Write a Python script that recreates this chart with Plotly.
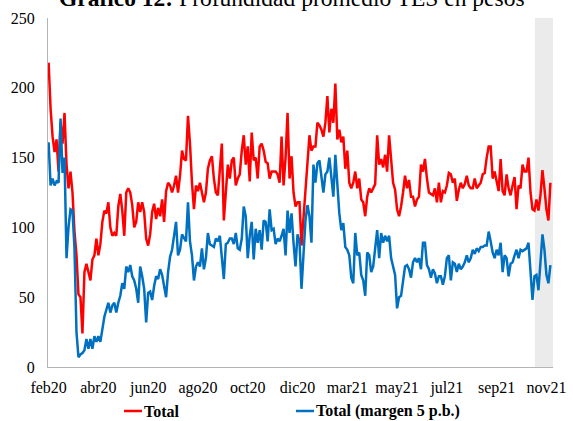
import plotly.graph_objects as go

# Profundidad promedio TES en pesos (daily observations, feb20 - nov21)
total = [
    218, 185, 165, 154, 163, 140, 175, 160, 182, 145, 128, 140, 125, 97, 80,
    52, 50, 24, 68, 74, 68, 62, 77, 80, 92, 80, 88, 104, 112, 110,
    118, 100, 94, 96, 94, 115, 124, 112, 94, 125, 128,
    125, 116, 100, 104, 118, 111, 118, 111, 92, 87, 95, 111, 117, 106, 114,
    108, 120, 104, 126, 132, 130, 125, 130, 137, 125, 137, 155, 149, 148, 180,
    160, 132, 113, 130, 126, 132, 126, 118, 125, 142, 148, 151,
    135, 125, 123, 145, 160, 105, 128, 145, 135, 148, 150, 130, 135, 138, 155,
    166, 145, 158, 133, 168, 148, 150, 135, 158, 160, 155, 147, 146, 135, 140,
    140, 140, 138, 132, 165, 130, 150, 182, 135, 151, 125, 115,
    118, 118, 87, 106, 125, 148, 166, 155, 158, 158, 175, 173, 170, 165, 175,
    194, 168, 185, 175, 203, 163, 170, 161, 165, 142, 155, 132, 128, 132, 140,
    128, 135, 120, 118, 108, 122, 128, 125, 128, 131, 166, 145,
    149, 143, 152, 140, 166, 150, 132, 127, 113, 108, 115, 125, 137, 128, 134,
    122, 122, 115, 120, 122, 145, 140, 149, 135, 125, 124, 123, 128, 118, 132,
    118, 126, 125, 130, 139, 138, 132, 135, 119, 127, 132, 128,
    131, 137, 130, 128, 128, 135, 128, 130, 132, 138, 139, 150, 158, 158, 135,
    140, 132, 126, 149, 126, 123, 138, 128, 123, 130, 136, 113, 130, 128, 145,
    140, 140, 150, 125, 113, 112, 120, 112, 123, 141, 128, 113, 105, 132,
]

margen_5pb = [
    161, 130, 135, 130, 133, 132, 178, 139, 150, 78, 100, 113, 112, 85, 25,
    7, 9, 10, 12, 20, 13, 20, 13, 22, 18, 22, 18, 29, 36, 41,
    46, 39, 44, 46, 39, 46, 51, 60, 56, 72, 68,
    73, 65, 62, 56, 46, 72, 65, 56, 32, 53, 54, 48, 58, 65, 63,
    70, 66, 58, 50, 68, 79, 84, 96, 104, 80, 84, 95, 92, 90, 118,
    90, 80, 62, 72, 75, 72, 85, 70, 78, 96, 88, 87,
    86, 92, 90, 94, 80, 63, 88, 89, 92, 92, 88, 96, 85, 84, 92,
    115, 108, 78, 94, 104, 77, 99, 89, 98, 84, 105, 104, 90, 113, 98,
    99, 88, 92, 90, 94, 99, 80, 112, 96, 110, 89, 72,
    95, 90, 56, 84, 105, 116, 108, 89, 145, 132, 146, 148, 135, 125, 138,
    140, 150, 138, 122, 152, 130, 110, 98, 103, 86, 84, 80, 64, 60, 96,
    80, 82, 66, 62, 51, 82, 80, 68, 72, 86, 98, 78,
    96, 89, 94, 90, 94, 78, 72, 66, 42, 50, 51, 62, 72, 73, 70,
    64, 75, 78, 75, 78, 70, 89, 89, 73, 70, 64, 70, 67, 60, 65,
    65, 59, 65, 78, 80, 62, 75, 74, 68, 74, 70, 72,
    75, 80, 75, 78, 84, 81, 85, 83, 86, 86, 87, 87, 97, 90, 82,
    78, 84, 80, 89, 68, 80, 78, 65, 74, 75, 80, 84, 78, 84, 83,
    84, 85, 89, 71, 48, 65, 66, 55, 72, 95, 84, 66, 60, 73,
]

tick_labels = ["feb20", "abr20", "jun20", "ago20", "oct20", "dic20",
               "mar21", "may21", "jul21", "sep21", "nov21"]
tick_step = 25      # one label every 25 observations
shade_start = 244   # last observations shaded grey

x = list(range(len(total)))
font_family = "Liberation Serif, Times New Roman, serif"
red, blue = "#FF0000", "#0070C0"

# plot area in pixels (used to place title / legend outside the axes)
W, H = 573, 421
ML, MR, MT, MB = 48, 20, 18, 54
pw, ph = W - ML - MR, H - MT - MB


def px_x(px):
    return (px - ML) / pw


def px_y(py):
    return (H - MB - py) / ph


fig = go.Figure()
fig.add_trace(go.Scatter(x=x, y=total, mode="lines", name="Total",
                         line=dict(color=red, width=2.5)))
fig.add_trace(go.Scatter(x=x, y=margen_5pb, mode="lines", name="Total (margen 5 p.b.)",
                         line=dict(color=blue, width=2.5)))

fig.add_vrect(x0=shade_start + 0.2, x1=len(total) + 0.3, fillcolor="#EBEBEB",
              line_width=0, layer="below")

# title (partly cut by the top edge, as in the source)
fig.add_annotation(text="<b>Gráfico 12:</b> Profundidad promedio TES en pesos",
                   xref="paper", yref="paper", x=px_x(292), y=px_y(-2),
                   xanchor="center", yanchor="middle", showarrow=False,
                   font=dict(family=font_family, size=23.5, color="black"))

# legend drawn below the axis: short coloured key + bold name
legend_items = [("Total", red, 124), ("Total (margen 5 p.b.)", blue, 296)]
for name, color, left in legend_items:
    fig.add_shape(type="line", xref="paper", yref="paper",
                  x0=px_x(left), x1=px_x(left + 18), y0=px_y(411), y1=px_y(411),
                  line=dict(color=color, width=2.5))
    fig.add_annotation(text="<b>%s</b>" % name, xref="paper", yref="paper",
                       x=px_x(left + 18), y=px_y(411), xanchor="left", yanchor="middle",
                       showarrow=False,
                       font=dict(family=font_family, size=16, color="black"))

fig.update_layout(
    width=W, height=H,
    margin=dict(l=ML, r=MR, t=MT, b=MB),
    paper_bgcolor="white", plot_bgcolor="white",
    font=dict(family=font_family, size=16, color="black"),
    showlegend=False,
)

fig.update_xaxes(range=[-0.3, len(total) + 0.3],
                 tickvals=[i * tick_step for i in range(len(tick_labels))],
                 ticktext=tick_labels, ticks="", showgrid=False, zeroline=False,
                 showline=True, linecolor="#B4B4B4", linewidth=1,
                 tickfont=dict(family=font_family, size=16, color="black"),
                 ticklabelstandoff=6, automargin=False)
fig.update_yaxes(range=[0, 250], dtick=50, ticks="", showgrid=False, zeroline=False,
                 showline=True, linecolor="#B4B4B4", linewidth=1,
                 tickfont=dict(family=font_family, size=16, color="black"),
                 ticklabelstandoff=9, automargin=False)

# static page, no mode bar; drop the default page margin so the figure sits at the corner
fig.write_html("out.html",
               config={"staticPlot": True, "displayModeBar": False},
               post_script="document.body.style.margin='0';"
                           "document.body.style.overflow='hidden';")
